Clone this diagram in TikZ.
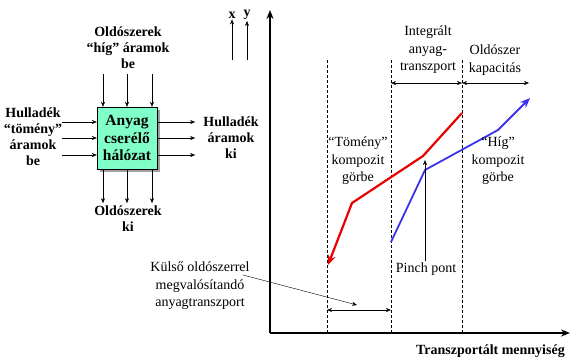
\documentclass[tikz,border=0pt]{standalone}
\usepackage{fontspec}
\setmainfont{Liberation Serif}
\usepackage{tikz}
\usetikzlibrary{arrows.meta}
\definecolor{BoxGreen}{RGB}{128, 255, 200}
\definecolor{CurveRed}{RGB}{230, 0, 0}
\definecolor{CurveBlue}{RGB}{60, 50, 235}

\begin{document}
\begin{tikzpicture}[x=1pt, y=-1pt, >={Stealth[length=5pt, width=4pt]},
    lbl/.style={align=center, inner sep=1pt, font=\fontsize{14}{16}\selectfont\bfseries},
    txt/.style={align=center, inner sep=1pt, font=\fontsize{14}{17.5}\selectfont}]
          \useasboundingbox (0,0) rectangle (576,362);
          % network box
          \fill[gray!75] (100,110) rectangle (160,172);
          \node[draw, fill=BoxGreen, minimum width=60pt, minimum height=62pt, inner sep=0pt, align=center,
                font=\fontsize{15.5}{17.5}\selectfont\bfseries] (halo) at (127,138) {Anyag\\cserélő\\hálózat};
          \foreach \d in {-24,0,25} {
            \draw[->] ([xshift=\d pt, yshift=33pt]halo.north) -- ([xshift=\d pt]halo.north);
            \draw[->] ([xshift=\d pt]halo.south) -- ([xshift=\d pt, yshift=-34pt]halo.south);
          }
          \foreach \d in {16,0,-17} {
            \draw[->] ([xshift=-35pt, yshift=\d pt]halo.west) -- ([yshift=\d pt]halo.west);
            \draw[->] ([yshift=\d pt]halo.east) -- ([xshift=38pt, yshift=\d pt]halo.east);
          }
          \node[lbl] (higbe) at (128,48) {Oldószerek\\“híg” áramok\\be};
          \node[lbl] (tombe) at (33,137) {Hulladék\\“tömény”\\áramok\\be};
          \node[lbl] (hulki) at (231,138) {Hulladék\\áramok\\ki};
          \node[lbl] (oldki) at (128,219) {Oldószerek\\ki};
          % axes
          \node[lbl] (xl) at (232,15) {x};
          \node[lbl] (yl) at (247,15) {y};
          \draw[->] (232,60) -- (xl.south);
          \draw[->] (247,60) -- (yl.south);
          \draw[line width=1.6pt, -{Stealth[length=9pt, width=7pt]}] (270,333) -- (270,10);
          \draw[line width=1.6pt, -{Stealth[length=9pt, width=7pt]}] (270,333) -- (570,333);
          \node[lbl, anchor=east] (tmenny) at (566,351) {Transzportált mennyiség};
          % zones
          \foreach \x in {327,391,462}
            \draw[dashed, dash pattern=on 3pt off 2pt] (\x,60) -- (\x,333);
          \draw[<->] (391,83) -- (462,83);
          \draw[<->] (462,83) -- (529,83);
          \draw[<->] (327,310) -- (391,310);
          \node[txt] (integ) at (428,50) {Integrált\\anyag-\\transzport};
          \node[txt] (kapac) at (495,60) {Oldószer\\kapacitás};
          % composite curves
          \draw[CurveRed, line width=2.2pt, -{Stealth[length=10pt, width=8pt]}] (462,113) -- (423,156) -- (352,203) -- (328,265);
          \draw[CurveBlue, line width=1.8pt, -{Stealth[length=10pt, width=8pt]}] (391,242) -- (425,170) -- (498,130) -- (530,98);
          \node[txt] (tomeny) at (358,161) {“Tömény”\\kompozit\\görbe};
          \node[txt] (hig) at (498,161) {“Híg”\\kompozit\\görbe};
          % pinch
          \node[txt] (pinch) at (426,269) {Pinch pont};
          \coordinate (pp) at (425,160);
          \draw[->] (pinch.north -| pp) -- (pp);
          % external solvent
          \node[txt] (kulso) at (200,286) {Külső oldószerrel\\megvalósítandó\\anyagtranszport};
          \coordinate (ks) at (243,275);
          \coordinate (ke) at (357,305);
          \draw[->] (ks) -- (ke);
        \end{tikzpicture}
\end{document}
